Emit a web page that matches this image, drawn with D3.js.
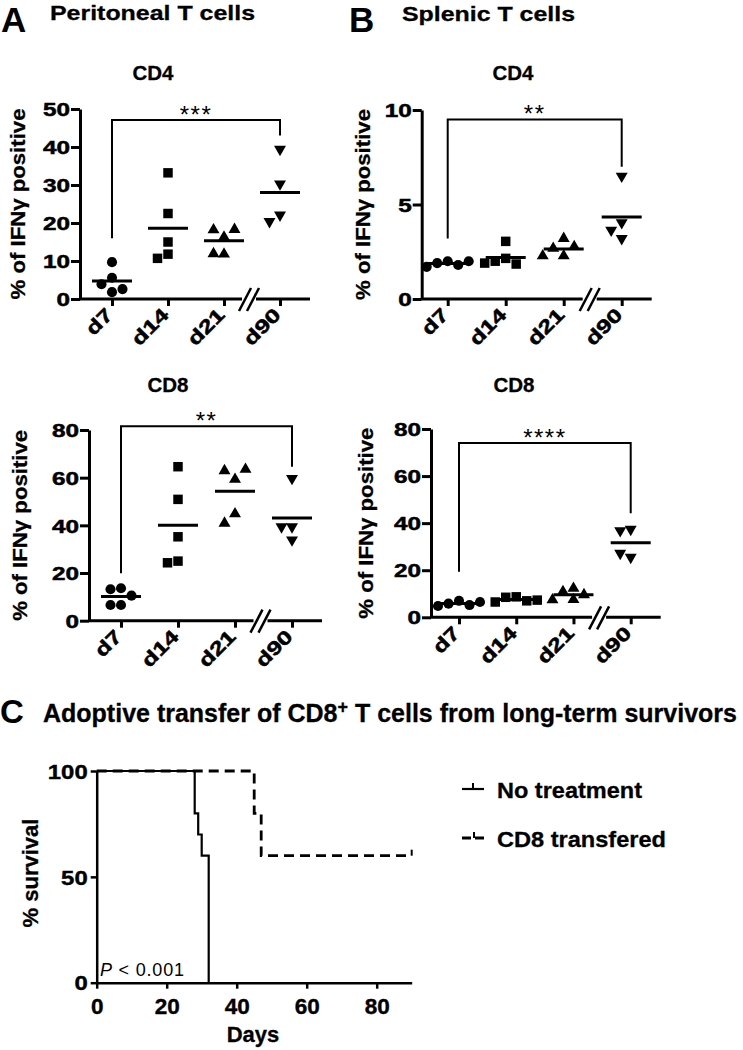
<!DOCTYPE html>
<html><head><meta charset="utf-8">
<script src="https://cdn.jsdelivr.net/npm/d3@7"></script>
<style>body{margin:0;background:#fff}svg{display:block}</style>
</head><body><svg id="c" width="743" height="1050"></svg>
<script>
// ---------- DATA ----------
const days = ["d7", "d14", "d21", "d90"];
// Panel A – peritoneal T cells (% IFNγ positive)
const periCD4_d7  = [9.7, 5.6, 3.9, 1.8, 2.6];
const periCD4_d14 = [33.2, 22.5, 15.0, 11.8, 10.7];
const periCD4_d21 = [16.3, 18.2, 18.3, 11.8, 11.9];
const periCD4_d90 = [39.4, 30.3, 22.1, 20.4];
const periCD8_d7  = [13.6, 13.2, 10.5, 6.6, 6.6];
const periCD8_d14 = [64.6, 50.9, 35.2, 25.0, 24.3];
const periCD8_d21 = [59.3, 62.9, 63.5, 44.8, 40.9];
const periCD8_d90 = [59.7, 39.4, 39.4, 33.9];
// Panel B – splenic T cells
const splCD4_d7  = [2.0, 1.9, 1.8, 1.7, 2.0];
const splCD4_d14 = [3.05, 2.15, 2.0, 1.85, 1.9];
const splCD4_d21 = [3.2, 2.68, 2.77, 2.28, 2.28];
const splCD4_d90 = [6.5, 4.04, 3.2, 3.64];
const splCD8_d7  = [7.0, 5.8, 5.2, 4.8, 6.5];
const splCD8_d14 = [8.7, 8.5, 7.0, 6.5, 7.3];
const splCD8_d21 = [12.3, 10.9, 9.6, 7.5, 7.4];
const splCD8_d90 = [37.4, 36.8, 25.5, 27.2];
// Y ticks
const ticksPeriCD4 = [0, 10, 20, 30, 40, 50];
const ticksCD8 = [0, 20, 40, 60, 80];
const ticksSplCD4 = [0, 5, 10];
// Significance brackets: [label, top, left leg end, right leg end]
const sigLabels = ["***", "**", "**", "****"];
const sigTop    = [47.1, 81.6, 9.5, 74.0];
const sigLeft   = [16.0, 19.9, 3.2, 19.4];
const sigRight  = [43.0, 64.6, 7.0, 44.2];
// Panel C – survival
const noTreatDays = [0, 28, 29, 30, 32];
const noTreatSurv = [100, 80, 70, 60, 0];
const cd8Days = [0, 45, 47, 90];
const cd8Surv = [100, 80, 60, 60];
const survTicksX = [0, 20, 40, 60, 80];
const survTicksY = [0, 50, 100];
const legendLabels = ["No treatment", "CD8 transfered"];

// ---------- DRAW ----------
const FONT = '"Liberation Sans", Arial, Helvetica, sans-serif';
const svg = d3.select("#c");
svg.append("rect").attr("width", 743).attr("height", 1050).attr("fill", "#fff");

function txt(g, s, x, y, o = {}) {
  const t = g.append("text").attr("x", x).attr("y", y).text(s)
    .attr("font-family", FONT).attr("font-size", o.size || 20)
    .attr("font-weight", o.weight || "bold").attr("text-anchor", o.anchor || "start")
    .attr("fill", "#000");
  if (o.len) t.attr("textLength", o.len).attr("lengthAdjust", "spacingAndGlyphs");
  if (o.rotate != null) t.attr("transform", `rotate(${o.rotate},${x},${y})`);
  if (o.dy) t.attr("dy", o.dy);
  if (o.ls) t.attr("letter-spacing", o.ls);
  if (o.stroke) t.attr("stroke", "#000").attr("stroke-width", o.stroke);
  return t;
}

// headings
txt(svg, "A", 1, 32, {size: 35});
txt(svg, "Peritoneal T cells", 50, 20, {size: 21, len: 205, stroke: 0.3});
txt(svg, "B", 349, 32, {size: 35});
txt(svg, "Splenic T cells", 402, 21, {size: 21, len: 173, stroke: 0.3});

const shapes = [d3.symbolCircle, d3.symbolSquare, d3.symbolTriangle, d3.symbolTriangle];
const shapeSize = [80, 90, 62, 62];

function swarm(vals, yScale, cx, step, minD) {
  const placed = [];
  return vals.map(v => {
    const py = yScale(v);
    for (const k of [0, -1, 1, -2, 2, -3, 3]) {
      const px = cx + k * step;
      if (placed.every(q => Math.hypot(q[0] - px, q[1] - py) >= minD)) {
        placed.push([px, py]); return [px, py];
      }
    }
    placed.push([cx, py]); return [cx, py];
  });
}

const panels = [
  {ax: 80, yb: 299, yt: 109, ymax: 50, ticks: ticksPeriCD4, x0: 112, x1: 280, title: "CD4", tx: 153, ty: 80, lx: 18,
   series: [periCD4_d7, periCD4_d14, periCD4_d21, periCD4_d90], si: 0},
  {ax: 89, yb: 620.7, yt: 430, ymax: 80, ticks: ticksCD8, x0: 121, x1: 292, title: "CD8", tx: 168, ty: 392, lx: 20,
   series: [periCD8_d7, periCD8_d14, periCD8_d21, periCD8_d90], si: 1},
  {ax: 421.7, yb: 299, yt: 110, ymax: 10, ticks: ticksSplCD4, x0: 447.7, x1: 621.7, title: "CD4", tx: 513, ty: 80, lx: 363,
   series: [splCD4_d7, splCD4_d14, splCD4_d21, splCD4_d90], si: 2},
  {ax: 431, yb: 617.3, yt: 429, ymax: 80, ticks: ticksCD8, x0: 459, x1: 630.7, title: "CD8", tx: 514, ty: 392, lx: 366,
   series: [splCD8_d7, splCD8_d14, splCD8_d21, splCD8_d90], si: 3},
];

panels.forEach(p => {
  const g = svg.append("g");
  const x = d3.scalePoint().domain(days).range([p.x0, p.x1]);
  const y = d3.scaleLinear().domain([0, p.ymax]).range([p.yb, p.yt]);

  txt(g, p.title, p.tx, p.ty, {size: 20.5, anchor: "middle", stroke: 0.3});
  txt(g, "% of IFNγ positive", p.lx, (p.yb + p.yt) / 2, {size: 21, anchor: "middle", rotate: -90, len: 191, dy: "0.35em", stroke: 0.3});

  // y axis
  const ya = g.append("g").attr("transform", `translate(${p.ax},0)`)
    .call(d3.axisLeft(y).tickValues(p.ticks).tickSize(9).tickSizeOuter(0).tickPadding(1));
  ya.select(".domain").attr("stroke", "#000").attr("stroke-width", 3);
  ya.selectAll(".tick line").attr("stroke", "#000").attr("stroke-width", 3);
  ya.selectAll(".tick text").attr("font-family", FONT).attr("font-size", 18.5).attr("font-weight", "bold")
    .attr("fill", "#000").attr("stroke", "#000").attr("stroke-width", 0.5).attr("dy", "0.36em")
    .each(function(d) { d3.select(this).attr("textLength", String(d).length * 13.5).attr("lengthAdjust", "spacingAndGlyphs"); });

  // x axis with break
  const xa = g.append("g").attr("transform", `translate(0,${p.yb})`)
    .call(d3.axisBottom(x).tickSize(7).tickSizeOuter(0));
  xa.select(".domain").remove();
  xa.selectAll(".tick line").attr("stroke", "#000").attr("stroke-width", 3);
  xa.selectAll(".tick text").remove();
  const bx = (x("d21") + x("d90")) / 2 - 3;
  const xEnd = x("d90") + 30;
  g.append("line").attr("x1", p.ax).attr("x2", bx - 7).attr("y1", p.yb).attr("y2", p.yb).attr("stroke", "#000").attr("stroke-width", 3);
  g.append("line").attr("x1", bx + 7).attr("x2", xEnd).attr("y1", p.yb).attr("y2", p.yb).attr("stroke", "#000").attr("stroke-width", 3);
  [-4, 4].forEach(o => {
    g.append("line").attr("x1", bx + o - 6).attr("y1", p.yb + 12).attr("x2", bx + o + 6).attr("y2", p.yb - 11)
      .attr("stroke", "#000").attr("stroke-width", 2.5);
  });
  days.forEach(d => {
    g.append("text").text(d).attr("font-family", FONT).attr("font-size", 19).attr("font-weight", "bold")
      .attr("text-anchor", "end").attr("fill", "#000").attr("stroke", "#000").attr("stroke-width", 0.5)
      .attr("textLength", d.length * 14.5).attr("lengthAdjust", "spacingAndGlyphs")
      .attr("transform", `translate(${x(d) + 2},${p.yb + 17}) rotate(-45)`);
  });

  // points + mean lines
  p.series.forEach((vals, i) => {
    const cx = x(days[i]);
    const pts = swarm(vals, y, cx, 10.5, 10.5);
    g.selectAll(null).data(pts).enter().append("path")
      .attr("d", d3.symbol().type(shapes[i]).size(shapeSize[i]))
      .attr("transform", d => `translate(${d[0]},${d[1]})` + (i === 3 ? " rotate(180)" : ""))
      .attr("fill", "#000");
    const m = d3.mean(vals);
    g.append("line").attr("x1", cx - 20).attr("x2", cx + 20).attr("y1", y(m)).attr("y2", y(m))
      .attr("stroke", "#000").attr("stroke-width", 3);
  });

  // significance bracket
  const xl = x("d7"), xr = x("d90");
  g.append("path")
    .attr("d", `M${xl},${y(sigLeft[p.si])}V${y(sigTop[p.si])}H${xr}V${y(sigRight[p.si])}`)
    .attr("fill", "none").attr("stroke", "#000").attr("stroke-width", 2);
  txt(g, sigLabels[p.si], (xl + xr) / 2, y(sigTop[p.si]) + 2.5, {size: 24, weight: "normal", anchor: "middle", ls: 1.5});
});

// ---------- Panel C ----------
const gc = svg.append("g");
txt(gc, "C", 0, 723, {size: 33});
const ct = gc.append("text").attr("x", 43).attr("y", 722).attr("font-family", FONT).attr("font-size", 25)
  .attr("font-weight", "bold").attr("fill", "#000").attr("stroke", "#000").attr("stroke-width", 0.3);
ct.append("tspan").text("Adoptive transfer of CD8");
ct.append("tspan").attr("dy", -9).attr("font-size", 18).text("+");
ct.append("tspan").attr("dy", 9).text(" T cells from long-term survivors");

const sx = d3.scaleLinear().domain([0, 90]).range([96.7, 411.7]);
const sy = d3.scaleLinear().domain([0, 100]).range([982.7, 771]);

const yA = gc.append("g").attr("transform", `translate(${sx(0)},0)`)
  .call(d3.axisLeft(sy).tickValues(survTicksY).tickSize(6).tickSizeOuter(0).tickPadding(3));
const xA = gc.append("g").attr("transform", `translate(0,${sy(0)})`)
  .call(d3.axisBottom(sx).tickValues(survTicksX).tickSize(6).tickSizeOuter(0).tickPadding(8));
[yA, xA].forEach(a => {
  a.select(".domain").attr("stroke", "#000").attr("stroke-width", 2.5);
  a.selectAll(".tick line").attr("stroke", "#000").attr("stroke-width", 2.5);
  a.selectAll(".tick text").attr("font-family", FONT).attr("font-weight", "bold").attr("fill", "#000")
    .attr("stroke", "#000").attr("stroke-width", 0.4);
});
yA.selectAll(".tick text").attr("font-size", 20).attr("dy", "0.36em")
  .each(function(d) { d3.select(this).attr("textLength", String(d).length * 13.3).attr("lengthAdjust", "spacingAndGlyphs"); });
xA.selectAll(".tick text").attr("font-size", 22.5).attr("dy", "0.75em");

txt(gc, "Days", 253, 1042, {size: 22, anchor: "middle", stroke: 0.3});
txt(gc, "% survival", 30, 873, {size: 22, anchor: "middle", rotate: -90, dy: "0.35em", stroke: 0.3});

const stepLine = d3.line().x(d => sx(d[0])).y(d => sy(d[1])).curve(d3.curveStepAfter);
gc.append("path").attr("d", stepLine(d3.zip(cd8Days, cd8Surv)))
  .attr("fill", "none").attr("stroke", "#000").attr("stroke-width", 2.8).attr("stroke-dasharray", "10,6");
gc.append("line").attr("x1", sx(cd8Days[cd8Days.length - 1])).attr("x2", sx(cd8Days[cd8Days.length - 1]))
  .attr("y1", sy(cd8Surv[cd8Surv.length - 1])).attr("y2", sy(cd8Surv[cd8Surv.length - 1]) - 6)
  .attr("stroke", "#000").attr("stroke-width", 2);
gc.append("path").attr("d", stepLine(d3.zip(noTreatDays, noTreatSurv)))
  .attr("fill", "none").attr("stroke", "#000").attr("stroke-width", 2.2);

const pt = gc.append("text").attr("x", 100).attr("y", 976).attr("font-family", FONT).attr("font-size", 18)
  .attr("fill", "#000").attr("letter-spacing", 0.8);
pt.append("tspan").attr("font-style", "italic").text("P");
pt.append("tspan").text(" < 0.001");

// legend
gc.append("line").attr("x1", 462).attr("x2", 484).attr("y1", 789).attr("y2", 789).attr("stroke", "#000").attr("stroke-width", 2.2);
gc.append("line").attr("x1", 473).attr("x2", 473).attr("y1", 789).attr("y2", 783).attr("stroke", "#000").attr("stroke-width", 2);
txt(gc, legendLabels[0], 497, 798, {size: 22, len: 145, stroke: 0.3});
gc.append("line").attr("x1", 462).attr("x2", 486).attr("y1", 838).attr("y2", 838).attr("stroke", "#000").attr("stroke-width", 2.8).attr("stroke-dasharray", "9,4");
gc.append("line").attr("x1", 474).attr("x2", 474).attr("y1", 838).attr("y2", 832).attr("stroke", "#000").attr("stroke-width", 2);
txt(gc, legendLabels[1], 497, 847, {size: 22, len: 169, stroke: 0.3});
</script></body></html>
